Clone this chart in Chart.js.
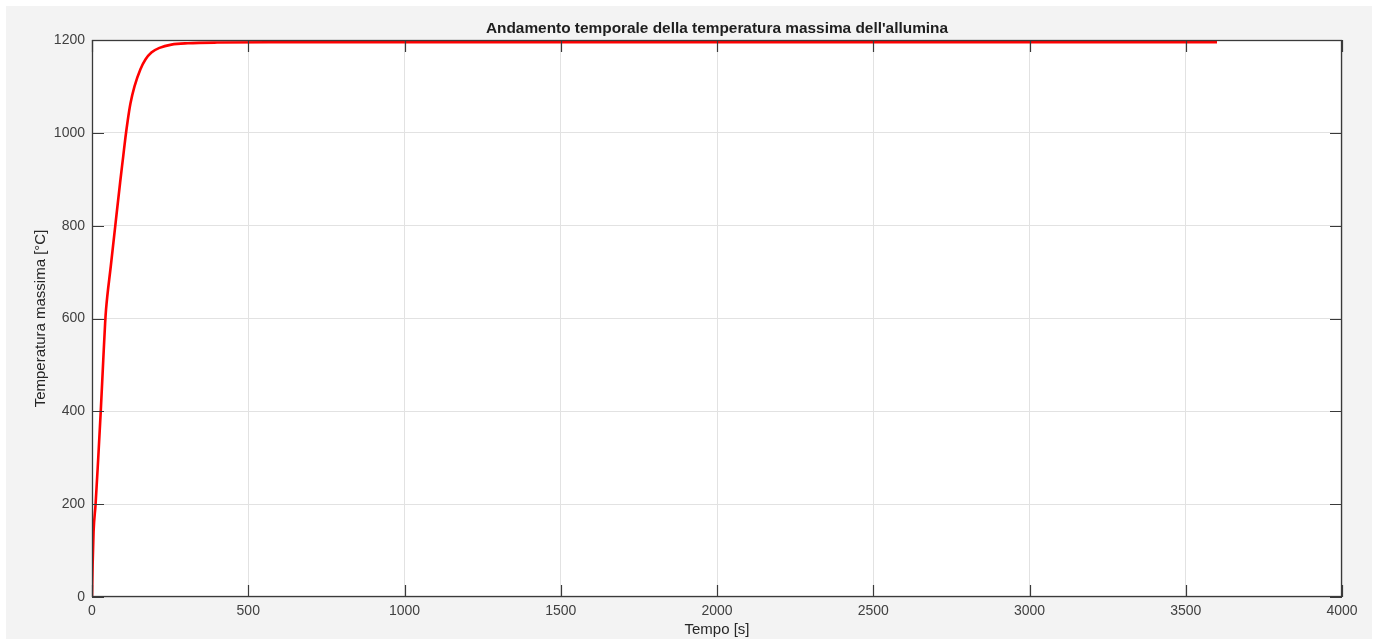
<!DOCTYPE html>
<html>
<head>
<meta charset="utf-8">
<script src="https://cdn.jsdelivr.net/npm/chart.js@4.4.1/dist/chart.umd.min.js"></script>
<style>
html,body{margin:0;padding:0;background:#fff;}
#wrap{width:1378px;height:639px;position:relative;}
</style>
</head>
<body>
<div id="wrap"><canvas id="c" width="1378" height="639"></canvas></div>
<script>
const chartTitle = "Andamento temporale della temperatura massima dell'allumina";
const xTitle = "Tempo [s]";
const yTitle = "Temperatura massima [°C]";
const timeValues = [0, 2, 5, 11.5, 20, 28, 36, 42, 45, 60, 75, 90, 100, 107, 114, 123, 136, 155, 171, 190, 216, 254, 307, 400, 600, 1000, 2000, 3600];
const tempValues = [0, 70, 140, 200, 300, 400, 510, 590, 620, 712, 803, 893, 950, 990, 1025, 1063, 1100, 1137, 1158, 1173, 1183, 1190, 1193, 1194.5, 1195, 1195, 1195, 1195];
const xTicks = [0, 500, 1000, 1500, 2000, 2500, 3000, 3500, 4000];
const yTicks = [0, 200, 400, 600, 800, 1000, 1200];

const FONT = "'Liberation Sans', Arial, Helvetica, sans-serif";
const AX = '#3a3a3a';

const bgPlugin = {
  id: 'bg',
  beforeDraw(chart) {
    const ctx = chart.ctx;
    ctx.save();
    ctx.fillStyle = '#ffffff';
    ctx.fillRect(0, 0, chart.width, chart.height);
    ctx.fillStyle = '#f3f3f3';
    ctx.fillRect(6, 6, 1366, 633);
    const a = chart.chartArea;
    ctx.fillStyle = '#ffffff';
    ctx.fillRect(a.left, a.top, a.right - a.left, a.bottom - a.top);
    ctx.restore();
  },
  afterDraw(chart) {
    const ctx = chart.ctx;
    const a = chart.chartArea;
    const xs = chart.scales.x, ys = chart.scales.y;
    ctx.save();
    ctx.strokeStyle = AX;
    ctx.lineWidth = 1.3;
    ctx.strokeRect(a.left + 0.5, a.top + 0.5, a.right - a.left - 1, a.bottom - a.top - 1);
    ctx.lineWidth = 1.2;
    const L = 12;
    ctx.beginPath();
    xTicks.forEach(v => {
      const px = Math.round(xs.getPixelForValue(v)) + 0.5;
      ctx.moveTo(px, a.bottom); ctx.lineTo(px, a.bottom - L);
      ctx.moveTo(px, a.top); ctx.lineTo(px, a.top + L);
    });
    yTicks.forEach(v => {
      const py = Math.round(ys.getPixelForValue(v)) + 0.5;
      ctx.moveTo(a.left, py); ctx.lineTo(a.left + L, py);
      ctx.moveTo(a.right, py); ctx.lineTo(a.right - L, py);
    });
    ctx.stroke();
    ctx.fillStyle = '#1e1e1e';
    ctx.font = 'bold 15.4px ' + FONT;
    ctx.textAlign = 'center';
    ctx.textBaseline = 'middle';
    ctx.fillText(chartTitle, (a.left + a.right) / 2, 29);
    ctx.restore();
  }
};

new Chart(document.getElementById('c'), {
  type: 'line',
  data: {
    datasets: [{
      data: timeValues.map((t, i) => ({x: t, y: tempValues[i]})),
      borderColor: '#ff0000',
      borderWidth: 2.6,
      pointRadius: 0,
      fill: false,
      cubicInterpolationMode: 'monotone'
    }]
  },
  options: {
    responsive: false,
    animation: false,
    layout: {padding: {top: 40, right: 36, left: 0, bottom: 0}},
    plugins: {legend: {display: false}, title: {display: false}, tooltip: {enabled: false}},
    scales: {
      x: {
        type: 'linear', min: 0, max: 4000,
        afterFit(s) { s.height = 42; },
        afterBuildTicks(s) { s.ticks = xTicks.map(v => ({value: v})); },
        grid: {color: '#e2e2e2', lineWidth: 1, drawTicks: false},
        border: {display: false},
        ticks: {color: '#404040', font: {family: FONT, size: 14, lineHeight: 1.2}, padding: 6, maxRotation: 0, callback: v => String(v)},
        title: {display: true, text: xTitle, color: '#262626', font: {family: FONT, size: 15, lineHeight: 1.2}, padding: {top: 0, bottom: 0}}
      },
      y: {
        type: 'linear', min: 0, max: 1200,
        afterFit(s) { s.width = 92; },
        afterBuildTicks(s) { s.ticks = yTicks.map(v => ({value: v})); },
        grid: {color: '#e2e2e2', lineWidth: 1, drawTicks: false},
        border: {display: false},
        ticks: {color: '#404040', font: {family: FONT, size: 14, lineHeight: 1.2}, padding: 7, callback: v => String(v)},
        title: {display: true, text: yTitle, color: '#262626', font: {family: FONT, size: 15, lineHeight: 1.2}, padding: {top: 32, bottom: 0}}
      }
    }
  },
  plugins: [bgPlugin]
});
</script>
</body>
</html>
